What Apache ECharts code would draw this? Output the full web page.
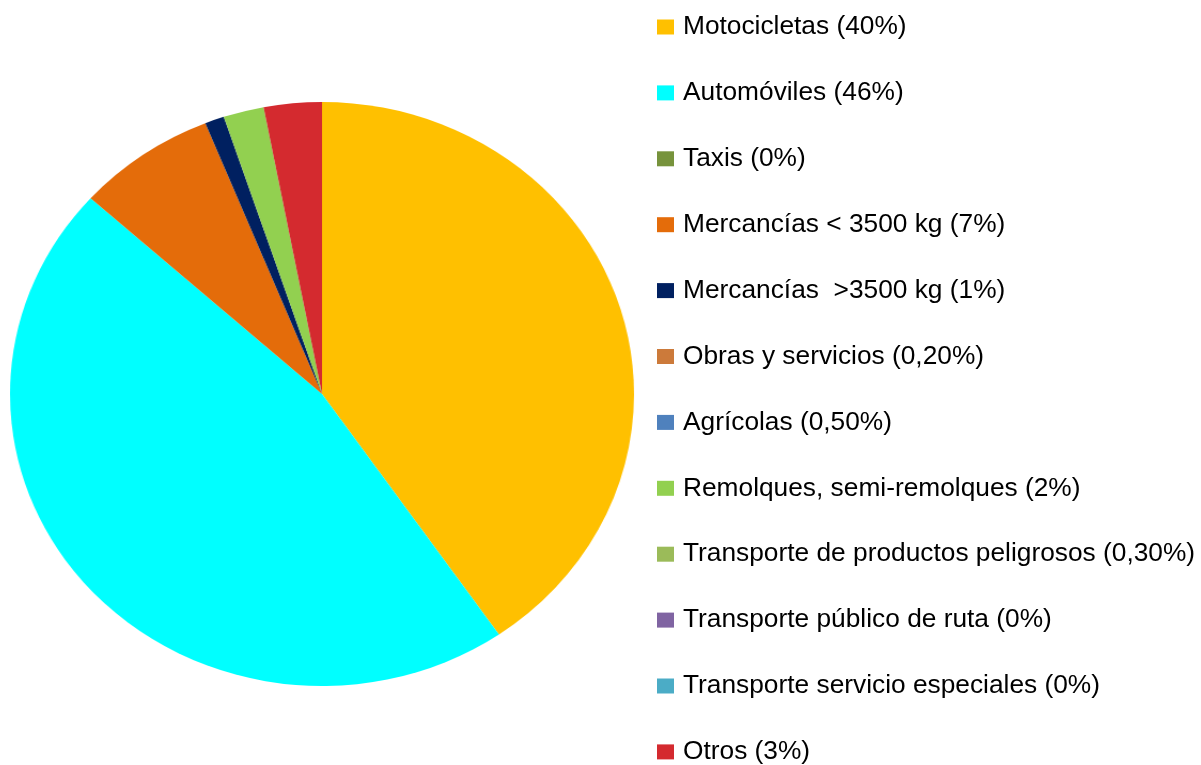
<!DOCTYPE html>
<html>
<head>
<meta charset="utf-8">
<script src="https://cdn.jsdelivr.net/npm/echarts@6/dist/echarts.min.js"></script>
<style>
    html, body { margin: 0; padding: 0; background: #fff; overflow: hidden; }
    #chart-pie {
        position: absolute; left: 0; top: 0; width: 650px; height: 765px;
        transform: scaleX(1.0685); transform-origin: 322px 394px;
    }
    #chart-legend { position: absolute; left: 0; top: 0; width: 1201px; height: 820px; }
</style>
</head>
<body>
<div id="chart-pie"></div>
<div id="chart-legend"></div>
<script>
let colorList = [
    '#ffc000', '#00ffff', '#77933c', '#e46c0a', '#002060', '#cc7a3a',
    '#4f81bd', '#92d050', '#9bbb59', '#8064a2', '#4bacc6', '#d42a2f'
];
// valores (los muy pequeños no se ven en la torta)
let echartData = [
    {"name": "Motocicletas (40%)", "value": 40.4},
    {"name": "Automóviles (46%)", "value": 46.3},
    {"name": "Taxis (0%)", "value": 0},
    {"name": "Mercancías < 3500 kg (7%)", "value": 7.2},
    {"name": "Mercancías  >3500 kg (1%)", "value": 1.0},
    {"name": "Obras y servicios (0,20%)", "value": 0},
    {"name": "Agrícolas (0,50%)", "value": 0},
    {"name": "Remolques, semi-remolques (2%)", "value": 2.1},
    {"name": "Transporte de productos peligrosos (0,30%)", "value": 0},
    {"name": "Transporte público de ruta (0%)", "value": 0},
    {"name": "Transporte servicio especiales (0%)", "value": 0},
    {"name": "Otros (3%)", "value": 3.0}
];

function initPie() {
    let chart = echarts.init(document.getElementById('chart-pie'));
    chart.setOption({
        animation: false,
        color: colorList,
        series: [{
            type: 'pie',
            radius: 292,
            center: [322, 394],
            startAngle: 90,
            clockwise: true,
            data: echartData,
            label: { show: false },
            labelLine: { show: false },
            itemStyle: { borderWidth: 0 },
            emphasis: { disabled: true }
        }]
    });
    return chart;
}

function initLegend() {
    let chart = echarts.init(document.getElementById('chart-legend'));
    chart.setOption({
        animation: false,
        color: colorList,
        legend: {
            orient: 'vertical',
            left: 657,
            top: 14,
            padding: 0,
            itemWidth: 17,
            itemHeight: 15,
            itemGap: 39.9,
            icon: 'rect',
            selectedMode: false,
            textStyle: {
                fontFamily: 'Liberation Sans',
                fontSize: 26.3,
                lineHeight: 26,
                color: '#000',
                padding: [0, 0, 0, 4]
            },
            data: echartData.map(d => d.name)
        },
        series: [{
            type: 'pie',
            radius: 0,
            center: [-500, -500],
            data: echartData,
            label: { show: false },
            labelLine: { show: false }
        }]
    });
    return chart;
}

initPie();
initLegend();
</script>
</body>
</html>
